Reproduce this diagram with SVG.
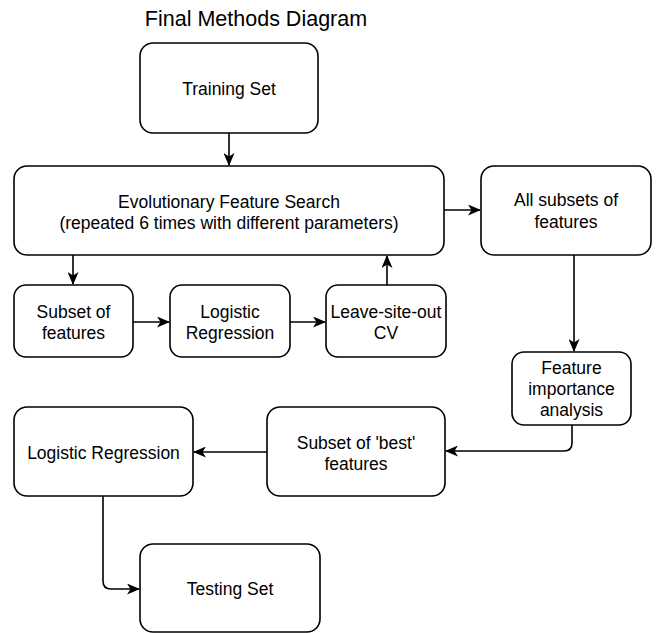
<svg xmlns="http://www.w3.org/2000/svg" width="663" height="633" viewBox="0 0 663 633">
<style>
.box{fill:#fff;stroke:#000;stroke-width:1.6}
.t{font-family:"Liberation Sans",Arial,sans-serif;font-size:17.5px;fill:#000;text-anchor:middle}
.title{font-family:"Liberation Sans",Arial,sans-serif;font-size:21.5px;fill:#000;text-anchor:middle}
.c{fill:none;stroke:#000;stroke-width:1.6}
</style>
<defs>
<marker id="ah" viewBox="0 0 13 11" refX="12" refY="5.5" markerWidth="13" markerHeight="11" markerUnits="userSpaceOnUse" orient="auto">
<path d="M0,0 L13,5.5 L0,11 L3.5,5.5 Z" fill="#000"/>
</marker>
</defs>
<rect width="663" height="633" fill="#fff"/>
<text class="title" x="256" y="26">Final Methods Diagram</text>
<g id="connectors">
<path class="c" d="M229,133 L229,165" marker-end="url(#ah)"/>
<path class="c" d="M444,210 L480,210" marker-end="url(#ah)"/>
<path class="c" d="M73,255 L73,284" marker-end="url(#ah)"/>
<path class="c" d="M133,322 L169,322" marker-end="url(#ah)"/>
<path class="c" d="M290,322 L325,322" marker-end="url(#ah)"/>
<path class="c" d="M387,285 L387,256" marker-end="url(#ah)"/>
<path class="c" d="M574,255 L574,351" marker-end="url(#ah)"/>
<path class="c" d="M572,425 L572,443 Q572,451 564,451 L446,451" marker-end="url(#ah)"/>
<path class="c" d="M268,452 L194,452" marker-end="url(#ah)"/>
<path class="c" d="M103,496 L103,581 Q103,589 111,589 L139,589" marker-end="url(#ah)"/>
</g>
<g id="training-set">
<rect class="box" x="140" y="43" width="178" height="90" rx="13"/>
<text class="t" x="229" y="95">Training Set</text>
</g>
<g id="evolutionary-feature-search">
<rect class="box" x="14" y="166" width="430" height="89" rx="13"/>
<text class="t" x="229" y="208">Evolutionary Feature Search</text>
<text class="t" x="229" y="229">(repeated 6 times with different parameters)</text>
</g>
<g id="all-subsets">
<rect class="box" x="481" y="166" width="170" height="89" rx="13"/>
<text class="t" x="566" y="206">All subsets of</text>
<text class="t" x="566" y="228">features</text>
</g>
<g id="subset-of-features">
<rect class="box" x="14" y="285" width="119" height="72" rx="12"/>
<text class="t" x="73.5" y="318">Subset of</text>
<text class="t" x="73.5" y="339">features</text>
</g>
<g id="logistic-regression-small">
<rect class="box" x="170" y="285" width="120" height="72" rx="12"/>
<text class="t" x="230" y="318">Logistic</text>
<text class="t" x="230" y="339">Regression</text>
</g>
<g id="leave-site-out">
<rect class="box" x="326" y="285" width="120" height="72" rx="12"/>
<text class="t" x="386" y="318">Leave-site-out</text>
<text class="t" x="386" y="339">CV</text>
</g>
<g id="feature-importance">
<rect class="box" x="512" y="352" width="119" height="73" rx="12"/>
<text class="t" x="571.5" y="374">Feature</text>
<text class="t" x="571.5" y="395">importance</text>
<text class="t" x="571.5" y="416">analysis</text>
</g>
<g id="subset-best">
<rect class="box" x="267" y="407" width="178" height="89" rx="13"/>
<text class="t" x="356" y="449">Subset of 'best'</text>
<text class="t" x="356" y="470">features</text>
</g>
<g id="logistic-regression">
<rect class="box" x="14" y="407" width="179" height="89" rx="13"/>
<text class="t" x="103.5" y="459">Logistic Regression</text>
</g>
<g id="testing-set">
<rect class="box" x="140" y="544" width="180" height="88" rx="13"/>
<text class="t" x="230" y="595">Testing Set</text>
</g>
</svg>
